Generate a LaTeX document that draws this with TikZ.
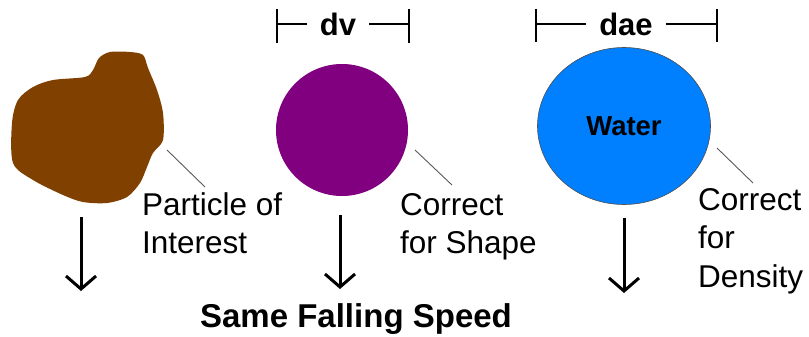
\documentclass[tikz,border=0pt]{standalone}
\usepackage{fontspec}
\setmainfont{Liberation Sans}
\usetikzlibrary{arrows.meta,shapes.geometric}
\definecolor{particlebrown}{RGB}{128,64,0}
\definecolor{shapepurple}{RGB}{128,0,128}
\definecolor{waterblue}{RGB}{0,128,255}
\tikzset{
  caption/.style={anchor=north west,inner sep=0pt,align=left,font=\fontsize{31.5}{38.5}\selectfont},
  leader/.style={draw=gray!70!black,line width=0.9pt},
  dimline/.style={line width=1.2pt},
  dimlabel/.style={inner xsep=13pt,inner ysep=0pt,font=\fontsize{31}{31}\selectfont\bfseries},
  fall/.style={line width=3pt,-{Straight Barb[length=13pt,width=30pt,line width=3pt]}}
}
\begin{document}
\begin{tikzpicture}[x=1pt,y=-1pt]
\useasboundingbox (0,0) rectangle (809,337);
% particle of interest
\fill[particlebrown] plot[smooth cycle,tension=0.5] coordinates {
  (93,70) (99,58) (110,52) (130,52) (143,55) (148,68) (157,90) (163,113)
  (163,140) (153,153) (147,167) (140,183) (127,197) (107,203) (83,202)
  (63,195) (33,180) (13,163) (12,123) (18,100) (33,87) (53,80) (85,77)};
% equivalent shape sphere
\node[circle,fill=shapepurple,minimum size=132pt,inner sep=0pt] (sphere) at (342,130) {};
% water sphere
\node[ellipse,fill=waterblue,draw=black!70,line width=0.6pt,minimum width=173pt,minimum height=157pt,inner sep=0pt,
  font=\fontsize{27.5}{27.5}\selectfont\bfseries] (water) at (624,126) {Water};
% captions
\node[caption] (partxt) at (142,192) {Particle of\\Interest};
\node[caption] (shapetxt) at (400,193) {Correct\\for Shape};
\node[caption] (densetxt) at (698,188) {Correct\\for\\Density};
\coordinate (parA) at (167,150); \coordinate (parB) at (205,187);
\coordinate (shpA) at (415,150); \coordinate (shpB) at (452,185);
\coordinate (denA) at (717,148); \coordinate (denB) at (753,183);
\draw[leader] (parA) -- (parB);
\draw[leader] (shpA) -- (shpB);
\draw[leader] (denA) -- (denB);
% diameters
\node[dimlabel] (dv) at (338,24) {dv};
\node[dimlabel] (dae) at (626,24) {dae};
\coordinate (dvL) at (277,24); \coordinate (dvR) at (409,24);
\coordinate (daeL) at (536,24); \coordinate (daeR) at (717,24);
\draw[dimline] (277,9) -- (277,43) (409,9) -- (409,43);
\draw[dimline] (536,9) -- (536,42) (717,9) -- (717,42);
\draw[dimline] (dvL) -- (dv.west) (dv.east) -- (dvR);
\draw[dimline] (daeL) -- (dae.west) (dae.east) -- (daeR);
% falling
\coordinate (f1a) at (81,217); \coordinate (f1b) at (81,291);
\coordinate (f2a) at (340,215); \coordinate (f2b) at (340,289);
\coordinate (f3a) at (624,218); \coordinate (f3b) at (624,293);
\draw[fall] (f1a) -- (f1b);
\draw[fall] (f2a) -- (f2b);
\draw[fall] (f3a) -- (f3b);
\node[anchor=base,inner sep=0pt,font=\fontsize{33}{33}\selectfont\bfseries] (speed) at (356,327) {Same Falling Speed};
\end{tikzpicture}
\end{document}
